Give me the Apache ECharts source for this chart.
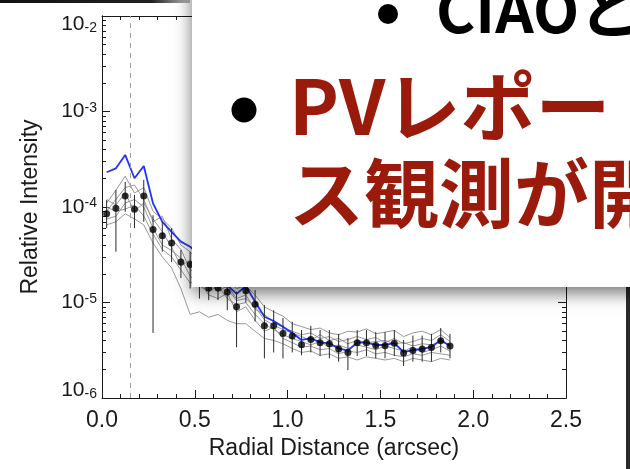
<!DOCTYPE html>
<html>
<head>
<meta charset="utf-8">
<script src="https://cdn.jsdelivr.net/npm/echarts@6/dist/echarts.min.js"></script>
<style>
  html, body { margin: 0; padding: 0; background: #ffffff; }
  #chart { width: 630px; height: 469px; }
</style>
</head>
<body>
<div id="chart"></div>
<script>
// Radial bins (arcsec)
const radius = [0.025, 0.075, 0.125, 0.175, 0.225, 0.275, 0.325, 0.375, 0.425, 0.475,
  0.525, 0.575, 0.625, 0.675, 0.725, 0.775, 0.825, 0.875, 0.925, 0.975,
  1.025, 1.075, 1.125, 1.175, 1.225, 1.275, 1.325, 1.375, 1.425, 1.475,
  1.525, 1.575, 1.625, 1.675, 1.725, 1.775, 1.825, 1.875];

// Mean profile (black points) with its error range
const meanProfile = [8.5e-5, 9.7e-5, 1.3e-4, 9.5e-5, 1.3e-4, 5.8e-5, 5.0e-5, 4.2e-5, 2.65e-5, 2.5e-5,
  1.8e-5, 1.42e-5, 1.42e-5, 1.29e-5, 9.0e-6, 1.33e-5, 9.6e-6, 5.7e-6, 5.7e-6, 4.75e-6,
  4.46e-6, 3.6e-6, 4.1e-6, 3.8e-6, 3.7e-6, 3.26e-6, 3.0e-6, 3.8e-6, 3.8e-6, 3.55e-6,
  3.53e-6, 3.74e-6, 2.96e-6, 3.14e-6, 3.26e-6, 3.37e-6, 3.98e-6, 3.51e-6];
const errLow = [6.0e-5, 3.4e-5, 8.9e-5, 6.0e-5, 7.0e-5, 4.8e-6, 3.4e-5, 2.65e-5, 1.8e-5, 1.4e-5,
  1.1e-5, 1.06e-5, 1.06e-5, 8.3e-6, 3.4e-6, 1.0e-5, 6.3e-6, 2.6e-6, 3.0e-6, 2.6e-6,
  3.0e-6, 2.8e-6, 3.0e-6, 2.75e-6, 2.6e-6, 2.4e-6, 1.96e-6, 2.75e-6, 2.75e-6, 2.6e-6,
  2.6e-6, 2.75e-6, 2.16e-6, 2.4e-6, 2.4e-6, 2.4e-6, 3.0e-6, 2.6e-6];
const errHigh = [1.18e-4, 1.51e-4, 1.83e-4, 1.34e-4, 1.92e-4, 8.2e-5, 7.0e-5, 6.0e-5, 3.55e-5, 3.4e-5,
  2.5e-5, 1.8e-5, 1.8e-5, 1.7e-5, 1.3e-5, 1.7e-5, 1.35e-5, 9.4e-6, 8.3e-6, 6.9e-6,
  6.3e-6, 5.15e-6, 5.7e-6, 5.15e-6, 5.15e-6, 4.7e-6, 4.25e-6, 5.15e-6, 5.15e-6, 4.9e-6,
  4.9e-6, 5.15e-6, 4.05e-6, 4.5e-6, 4.5e-6, 4.7e-6, 5.4e-6, 4.7e-6];

// Reference profile (blue)
const blueProfile = [2.31e-4, 2.54e-4, 3.51e-4, 2.0e-4, 2.69e-4, 1.09e-4, 7.0e-5, 5.5e-5, 4.34e-5, 3.84e-5,
  3.07e-5, 2.41e-5, 1.89e-5, 1.52e-5, 1.23e-5, 1.49e-5, 1.02e-5, 7.1e-6, 6.4e-6, 5.58e-6,
  4.8e-6, 4.05e-6, 4.22e-6, 3.83e-6, 3.74e-6, 3.31e-6, 3.13e-6, 3.83e-6, 3.8e-6, 3.59e-6,
  3.59e-6, 3.76e-6, 3.03e-6, 3.18e-6, 3.26e-6, 3.42e-6, 4.05e-6, 3.51e-6];

// Individual profiles (grey)
const profileA = [1.1e-4, 1.5e-4, 2.1e-4, 1.4e-4, 1.6e-4, 9.0e-5, 7.5e-5, 6.0e-5, 4.0e-5, 3.4e-5,
  2.6e-5, 2.0e-5, 1.9e-5, 1.7e-5, 1.4e-5, 1.5e-5, 1.2e-5, 9.0e-6, 8.0e-6, 7.2e-6,
  6.0e-6, 5.6e-6, 5.2e-6, 5.4e-6, 4.8e-6, 4.6e-6, 5.0e-6, 4.9e-6, 5.3e-6, 4.7e-6,
  4.9e-6, 5.1e-6, 4.4e-6, 4.8e-6, 5.0e-6, 4.6e-6, 5.2e-6, 4.3e-6];
const profileB = [9.0e-5, 1.2e-4, 1.6e-4, 1.7e-4, 1.2e-4, 7.0e-5, 8.0e-5, 4.6e-5, 3.6e-5, 2.2e-5,
  2.0e-5, 1.7e-5, 1.3e-5, 1.5e-5, 1.1e-5, 1.2e-5, 8.5e-6, 7.5e-6, 6.2e-6, 5.5e-6,
  5.0e-6, 4.6e-6, 4.8e-6, 4.2e-6, 4.4e-6, 3.9e-6, 4.1e-6, 4.4e-6, 4.1e-6, 4.3e-6,
  3.8e-6, 4.2e-6, 3.7e-6, 3.9e-6, 4.2e-6, 4.0e-6, 4.6e-6, 3.9e-6];
const profileC = [7.5e-5, 8.0e-5, 1.1e-4, 1.2e-4, 1.0e-4, 6.0e-5, 4.0e-5, 3.5e-5, 2.9e-5, 1.9e-5,
  1.5e-5, 1.3e-5, 1.5e-5, 1.1e-5, 9.5e-6, 1.0e-5, 7.5e-6, 6.0e-6, 5.2e-6, 4.6e-6,
  4.2e-6, 3.9e-6, 3.6e-6, 3.9e-6, 3.4e-6, 3.6e-6, 3.3e-6, 3.6e-6, 3.4e-6, 3.2e-6,
  3.5e-6, 3.3e-6, 3.1e-6, 3.4e-6, 3.0e-6, 3.2e-6, 3.5e-6, 3.1e-6];
const profileD = [1.0e-4, 9.0e-5, 9.5e-5, 1.05e-4, 8.0e-5, 5.2e-5, 3.6e-5, 3.0e-5, 2.2e-5, 1.6e-5,
  1.7e-5, 1.2e-5, 1.1e-5, 1.25e-5, 8.0e-6, 9.0e-6, 6.5e-6, 5.0e-6, 5.5e-6, 4.2e-6,
  3.8e-6, 3.4e-6, 3.5e-6, 3.2e-6, 3.3e-6, 2.9e-6, 3.1e-6, 3.0e-6, 3.2e-6, 2.9e-6,
  3.0e-6, 2.8e-6, 2.7e-6, 2.9e-6, 2.8e-6, 3.0e-6, 2.9e-6, 2.8e-6];
const profileE = [6.5e-5, 7.0e-5, 8.5e-5, 7.5e-5, 6.5e-5, 4.2e-5, 3.0e-5, 2.3e-5, 1.4e-5, 7.5e-6,
  8.0e-6, 7.0e-6, 7.5e-6, 6.5e-6, 6.0e-6, 6.0e-6, 5.0e-6, 4.2e-6, 4.0e-6, 3.7e-6,
  3.3e-6, 3.0e-6, 3.1e-6, 2.8e-6, 2.9e-6, 2.6e-6, 2.7e-6, 2.5e-6, 2.7e-6, 2.6e-6,
  2.5e-6, 2.6e-6, 2.4e-6, 2.6e-6, 2.5e-6, 2.4e-6, 2.6e-6, 2.5e-6];
const profileF = [1.2e-4, 1.05e-4, 1.4e-4, 9.0e-5, 1.1e-4, 7.5e-5, 5.5e-5, 3.8e-5, 2.4e-5, 2.8e-5,
  1.9e-5, 1.5e-5, 1.6e-5, 1.4e-5, 1.05e-5, 1.1e-5, 9.0e-6, 6.6e-6, 5.8e-6, 5.2e-6,
  4.8e-6, 4.4e-6, 4.0e-6, 4.6e-6, 4.0e-6, 4.2e-6, 3.7e-6, 4.0e-6, 3.8e-6, 3.9e-6,
  4.0e-6, 3.7e-6, 3.8e-6, 3.5e-6, 3.7e-6, 3.6e-6, 3.9e-6, 3.6e-6];
const greyProfiles = [profileA, profileB, profileC, profileD, profileE, profileF];

// Vertical dashed marker (arcsec)
const coreRadius = 0.15;

// Axis ticks
const xTickValues = [0.0, 0.5, 1.0, 1.5, 2.0, 2.5];
const decadeTicks = [1e-6, 1e-5, 1e-4, 1e-3, 1e-2];
const minorTicks = [];
for (let e = -6; e < -2; e++) {
  for (let m = 2; m <= 9; m++) minorTicks.push(+(m + 'e' + e));
}

// Slide text over the plot
const bulletLine1 = 'CIAOと';
const bulletLine2a = 'PVレポー';
const bulletLine2b = 'ス観測が開';

const axisFont = '"Liberation Sans", Arial, Helvetica, sans-serif';
const jpFont = '"Noto Sans CJK JP", "Noto Sans CJK SC", sans-serif';
const ink = '#1a1a1a';

const chart = echarts.init(document.getElementById('chart'), null, { renderer: 'canvas' });

function logAxis(position, showLabels, ticks, tickLen) {
  return {
    type: 'log',
    logBase: 10,
    min: 1e-6,
    max: 1e-2,
    position: position,
    gridIndex: 0,
    axisLine: { show: true, onZero: false, lineStyle: { color: ink, width: 1 } },
    axisTick: { show: true, inside: true, length: tickLen, customValues: ticks, lineStyle: { color: ink, width: 1 } },
    minorTick: { show: false },
    splitLine: { show: false },
    axisLabel: showLabels ? {
      show: true,
      customValues: decadeTicks,
      margin: 5,
      color: ink,
      fontFamily: axisFont,
      formatter: function (v) {
        const e = Math.round(Math.log10(v));
        if (e === -2) return '{bHi|10}{sHi|' + e + '}';
        if (e === -6) return '{bLo|10}{s|' + e + '}';
        return '{b|10}{s|' + e + '}';
      },
      rich: {
        b: { fontSize: 21, lineHeight: 21, fontFamily: axisFont, color: ink, padding: [4, 0, 4, 0] },
        bHi: { fontSize: 21, lineHeight: 21, fontFamily: axisFont, color: ink, padding: [20, 0, 4, 0] },
        bLo: { fontSize: 21, lineHeight: 21, fontFamily: axisFont, color: ink, padding: [4, 0, 20, 0] },
        s: { fontSize: 14, lineHeight: 14, fontFamily: axisFont, color: ink, verticalAlign: 'top' },
        sHi: { fontSize: 14, lineHeight: 14, fontFamily: axisFont, color: ink, verticalAlign: 'top', padding: [16, 0, 0, 0] }
      }
    } : { show: false }
  };
}

function xAxisDef(position, showLabels) {
  return {
    type: 'value',
    min: 0,
    max: 2.5,
    interval: 0.5,
    position: position,
    gridIndex: 0,
    axisLine: { show: true, onZero: false, lineStyle: { color: ink, width: 1 } },
    axisTick: { show: true, inside: true, length: 8, customValues: xTickValues, lineStyle: { color: ink, width: 1 } },
    minorTick: { show: true, splitNumber: 5, length: 4, lineStyle: { color: ink, width: 1 } },
    splitLine: { show: false },
    axisLabel: showLabels ? {
      show: true,
      margin: 11,
      fontSize: 23,
      color: ink,
      fontFamily: axisFont,
      formatter: function (v) { return v.toFixed(1); }
    } : { show: false },
    name: showLabels ? 'Radial Distance (arcsec)' : '',
    nameLocation: 'middle',
    nameGap: 37,
    nameTextStyle: { fontSize: 23, color: ink, fontFamily: axisFont }
  };
}

const leftAxis = logAxis('left', true, decadeTicks, 8);
leftAxis.name = 'Relative Intensity';
leftAxis.nameLocation = 'middle';
leftAxis.nameRotate = 90;
leftAxis.nameGap = 60;
leftAxis.nameTextStyle = { fontSize: 23, color: ink, fontFamily: axisFont };

const series = [];
greyProfiles.forEach(function (p, k) {
  const s = {
    type: 'line',
    xAxisIndex: 0,
    yAxisIndex: 0,
    data: radius.map(function (r, i) { return [r, p[i]]; }),
    showSymbol: false,
    symbol: 'none',
    lineStyle: { color: '#8c8c8c', width: 0.9 },
    z: 2,
    silent: true
  };
  if (k === 0) {
    s.markLine = {
      silent: true,
      symbol: 'none',
      label: { show: false },
      lineStyle: { type: [5, 5], color: '#a0a0a0', width: 1 },
      data: [{ xAxis: coreRadius }]
    };
  }
  series.push(s);
});

series.push({
  type: 'line',
  xAxisIndex: 0,
  yAxisIndex: 0,
  data: radius.map(function (r, i) { return [r, blueProfile[i]]; }),
  showSymbol: false,
  symbol: 'none',
  lineStyle: { color: '#1f33ff', width: 1.8 },
  z: 4,
  silent: true
});

series.push({
  type: 'custom',
  xAxisIndex: 0,
  yAxisIndex: 0,
  data: radius.map(function (r, i) { return [r, errLow[i], errHigh[i]]; }),
  encode: { x: 0, y: [1, 2] },
  renderItem: function (params, api) {
    const p1 = api.coord([api.value(0), api.value(1)]);
    const p2 = api.coord([api.value(0), api.value(2)]);
    return {
      type: 'line',
      shape: { x1: p1[0], y1: p1[1], x2: p2[0], y2: p2[1] },
      style: { stroke: '#2a2a2a', lineWidth: 1 }
    };
  },
  z: 5,
  silent: true
});

series.push({
  type: 'scatter',
  xAxisIndex: 0,
  yAxisIndex: 0,
  data: radius.map(function (r, i) { return [r, meanProfile[i]]; }),
  symbol: 'circle',
  symbolSize: 7,
  itemStyle: { color: '#000000' },
  z: 6,
  silent: true
});

const option = {
  animation: false,
  backgroundColor: '#ffffff',
  grid: { left: 102, top: 16, right: 64, bottom: 71, containLabel: false, outerBoundsMode: 'none' },
  xAxis: [xAxisDef('bottom', true), xAxisDef('top', false)],
  yAxis: [
    leftAxis,
    logAxis('left', false, minorTicks, 4),
    logAxis('right', false, decadeTicks, 8),
    logAxis('right', false, minorTicks, 4)
  ],
  series: series,
  graphic: [
    {
      type: 'rect',
      z: 100,
      shape: { x: 0, y: 0, width: 190, height: 3 },
      style: {
        fill: new echarts.graphic.LinearGradient(0, 0, 1, 0, [
          { offset: 0, color: '#111111' },
          { offset: 0.8, color: '#222222' },
          { offset: 1, color: '#bbbbbb' }
        ])
      }
    },
    {
      type: 'rect',
      z: 100,
      shape: { x: 626, y: 287, width: 4, height: 182 },
      style: { fill: '#2a2a2a' }
    },
    {
      type: 'rect',
      z: 101,
      shape: { x: 192, y: -40, width: 470, height: 327 },
      style: {
        fill: '#ffffff',
        shadowBlur: 16,
        shadowOffsetX: 0,
        shadowOffsetY: 6,
        shadowColor: 'rgba(0,0,0,0.55)'
      }
    },
    {
      type: 'circle',
      z: 102,
      shape: { cx: 388, cy: 14, r: 10 },
      style: { fill: '#000000' }
    },
    {
      type: 'text',
      z: 102,
      style: {
        text: bulletLine1,
        x: 436,
        y: 10,
        fill: '#000000',
        font: 'bold 60px ' + jpFont,
        align: 'left',
        verticalAlign: 'middle'
      }
    },
    {
      type: 'circle',
      z: 102,
      shape: { cx: 244, cy: 110, r: 12.5 },
      style: { fill: '#000000' }
    },
    {
      type: 'text',
      z: 102,
      style: {
        text: bulletLine2a,
        x: 289,
        y: 106,
        fill: '#9a1b0b',
        font: 'bold 75px ' + jpFont,
        align: 'left',
        verticalAlign: 'middle'
      }
    },
    {
      type: 'text',
      z: 102,
      style: {
        text: bulletLine2b,
        x: 289,
        y: 193,
        fill: '#9a1b0b',
        font: 'bold 75px ' + jpFont,
        align: 'left',
        verticalAlign: 'middle'
      }
    }
  ]
};

chart.setOption(option);
</script>
</body>
</html>
